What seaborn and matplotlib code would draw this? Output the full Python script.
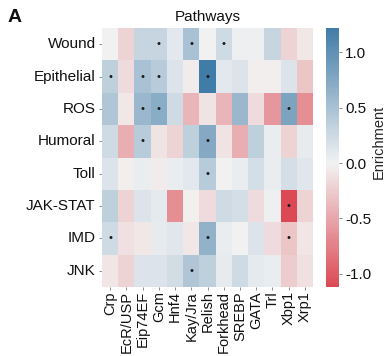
import numpy as np
import pandas as pd
import matplotlib
matplotlib.use("Agg")
import matplotlib.pyplot as plt
import seaborn as sns

pathways = ["Wound", "Epithelial", "ROS", "Humoral", "Toll", "JAK-STAT", "IMD", "JNK"]
factors = ["Crp", "EcR/USP", "Eip74EF", "Gcm", "Hnf4", "Kay/Jra", "Relish",
           "Forkhead", "SREBP", "GATA", "Trl", "Xbp1", "Xrp1"]

wound      = [0.00, -0.20, 0.30, 0.30, 0.10, 0.50, 0.00, 0.25, 0.03, 0.03, 0.30, -0.20, -0.07]
epithelial = [0.35, -0.15, 0.50, 0.40, 0.15, -0.05, 1.22, 0.10, 0.15, -0.03, -0.03, 0.15, -0.30]
ros        = [0.45, -0.07, 0.60, 0.70, 0.25, -0.40, -0.10, -0.40, 0.60, -0.15, -0.60, 0.80, -0.65]
humoral    = [0.25, -0.45, 0.40, -0.10, -0.20, 0.35, 0.75, -0.10, -0.45, 0.35, 0.05, -0.20, 0.07]
toll       = [0.15, -0.03, 0.05, -0.05, 0.05, 0.10, 0.40, 0.00, 0.05, 0.20, 0.05, 0.20, 0.12]
jak_stat   = [0.35, -0.20, 0.15, 0.08, -0.65, -0.02, -0.15, 0.25, 0.20, -0.15, 0.03, -1.12, -0.20]
imd        = [0.25, -0.12, -0.07, 0.07, 0.12, -0.07, 0.65, 0.05, 0.00, 0.15, -0.15, -0.30, -0.08]
jnk        = [-0.08, -0.20, 0.15, 0.15, 0.22, 0.45, 0.35, 0.07, 0.25, 0.08, 0.05, -0.25, -0.12]

significant = {
    "Wound": ["Gcm", "Kay/Jra", "Forkhead"],
    "Epithelial": ["Crp", "Eip74EF", "Gcm", "Relish"],
    "ROS": ["Eip74EF", "Gcm", "Xbp1"],
    "Humoral": ["Eip74EF", "Relish"],
    "Toll": ["Relish"],
    "JAK-STAT": ["Xbp1"],
    "IMD": ["Crp", "Relish", "Xbp1"],
    "JNK": ["Kay/Jra"],
}

cbar_ticks = [-1.0, -0.5, 0.0, 0.5, 1.0]
cbar_ticklabels = ["-1.0", "-0.5", "0.0", "0.5", "1.0"]

data = pd.DataFrame([wound, epithelial, ros, humoral, toll, jak_stat, imd, jnk],
                    index=pathways, columns=factors)
annot = pd.DataFrame("", index=pathways, columns=factors)
for p, fs in significant.items():
    for f in fs:
        annot.loc[p, f] = "\u2022"

sns.set_theme(style="white")
plt.rcParams["font.family"] = ["Liberation Sans", "DejaVu Sans"]
plt.rcParams["text.color"] = "#111111"
plt.rcParams["xtick.color"] = "#111111"
plt.rcParams["ytick.color"] = "#111111"

fig = plt.figure(figsize=(3.84, 3.56), dpi=100)
ax = fig.add_axes([102/384, 1 - 287/356, 211/384, 259/356])
cax = fig.add_axes([326/384, 1 - 287/356, 13/384, 259/356])

cmap = sns.diverging_palette(10, 240, s=75, l=50, as_cmap=True)
sns.heatmap(data, ax=ax, cbar_ax=cax, cmap=cmap, center=0,
            xticklabels=True, yticklabels=True,
            annot=annot, fmt="", annot_kws={"color": "#1a1a1a", "fontsize": 8},
            cbar_kws={"ticks": cbar_ticks})

ax.set_title("Pathways", fontsize=11, pad=5)
ax.tick_params(axis="y", left=True, length=2.5, width=0.6, color="#777777", labelsize=11, pad=2)
ax.tick_params(axis="x", bottom=True, length=2, width=0.6, color="#777777", labelsize=10.5, pad=1)
ax.set_yticklabels(ax.get_yticklabels(), rotation=0)
ax.set_xticklabels(ax.get_xticklabels(), rotation=90)
ax.set_xlabel("")
ax.set_ylabel("")

cax.tick_params(right=True, length=2.5, width=0.6, color="#777777", labelsize=11, pad=2)
cax.set_yticklabels(cbar_ticklabels)
cax.set_ylabel("Enrichment", fontsize=10.5)
cax.yaxis.set_label_coords(3.5, 0.56)

fig.text(8/384, 1 - 18/356, "A", fontsize=14, fontweight="bold", ha="left", va="center")

fig.savefig("out.png", dpi=100)
